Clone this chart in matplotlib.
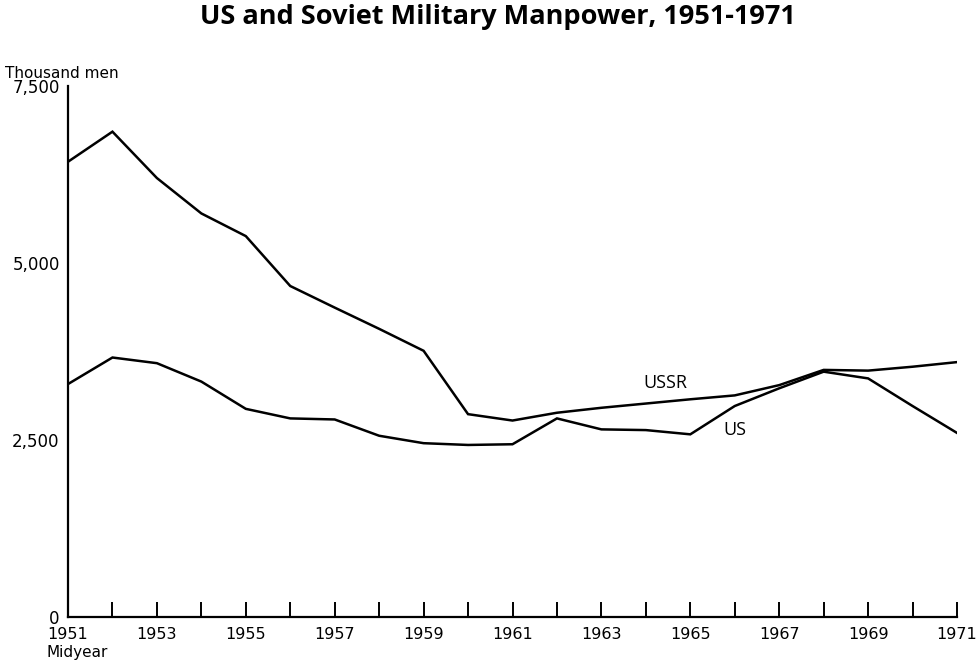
import numpy as np
import matplotlib
matplotlib.use('Agg')
import matplotlib.pyplot as plt

years = list(range(1951, 1972))
ussr = [6430, 6855, 6200, 5700, 5380, 4675, 4370, 4070, 3760, 2865,
        2775, 2885, 2955, 3015, 3075, 3130, 3275, 3490, 3480, 3535, 3600]
us = [3290, 3665, 3585, 3325, 2940, 2805, 2790, 2560, 2455, 2430,
      2440, 2805, 2650, 2640, 2580, 2980, 3230, 3465, 3370, 2980, 2600]
yticks = [0, 2500, 5000, 7500]
ylabels = ['0', '2,500', '5,000', '7,500']
xlabels = [str(y) if (y - 1951) % 2 == 0 else '' for y in years]

plt.rcParams['font.family'] = ['DejaVu Sans']

fig = plt.figure(figsize=(9.76, 6.6), dpi=100)
ax = fig.add_axes([68 / 976, 1 - 617 / 660, (957 - 68) / 976, (617 - 86) / 660])

ax.plot(years, ussr, color='black', lw=1.8, solid_joinstyle='miter')
ax.plot(years, us, color='black', lw=1.8, solid_joinstyle='miter')

ax.set_xlim(1951, 1971)
ax.set_ylim(0, 7500)
for s in ['top', 'right']:
    ax.spines[s].set_visible(False)
for s in ['left', 'bottom']:
    ax.spines[s].set_linewidth(1.6)

ax.set_xticks(years)
ax.set_xticklabels(xlabels, fontsize=11.5)
ax.tick_params(axis='x', direction='in', length=11, width=1.4, pad=7)

ax.set_yticks(yticks)
ax.set_yticklabels(ylabels, fontsize=12)
ax.tick_params(axis='y', length=0, pad=6)

fig.text(5 / 976, 1 - 73 / 660, 'Thousand men', fontsize=11, va='center', ha='left')
fig.text(46 / 976, 1 - 652 / 660, 'Midyear', fontsize=11, va='center', ha='left')

ax.text(1964.45, 3305, 'USSR', fontsize=13, family='Open Sans', va='center', ha='center')
ax.text(1966.0, 2640, 'US', fontsize=13, family='Open Sans', va='center', ha='center')

fig.text(498 / 976, 1 - 17 / 660, 'US and Soviet Military Manpower, 1951-1971',
         fontsize=19.5, family='Open Sans', fontweight='bold', ha='center', va='center')

fig.savefig('out.png', dpi=100)
